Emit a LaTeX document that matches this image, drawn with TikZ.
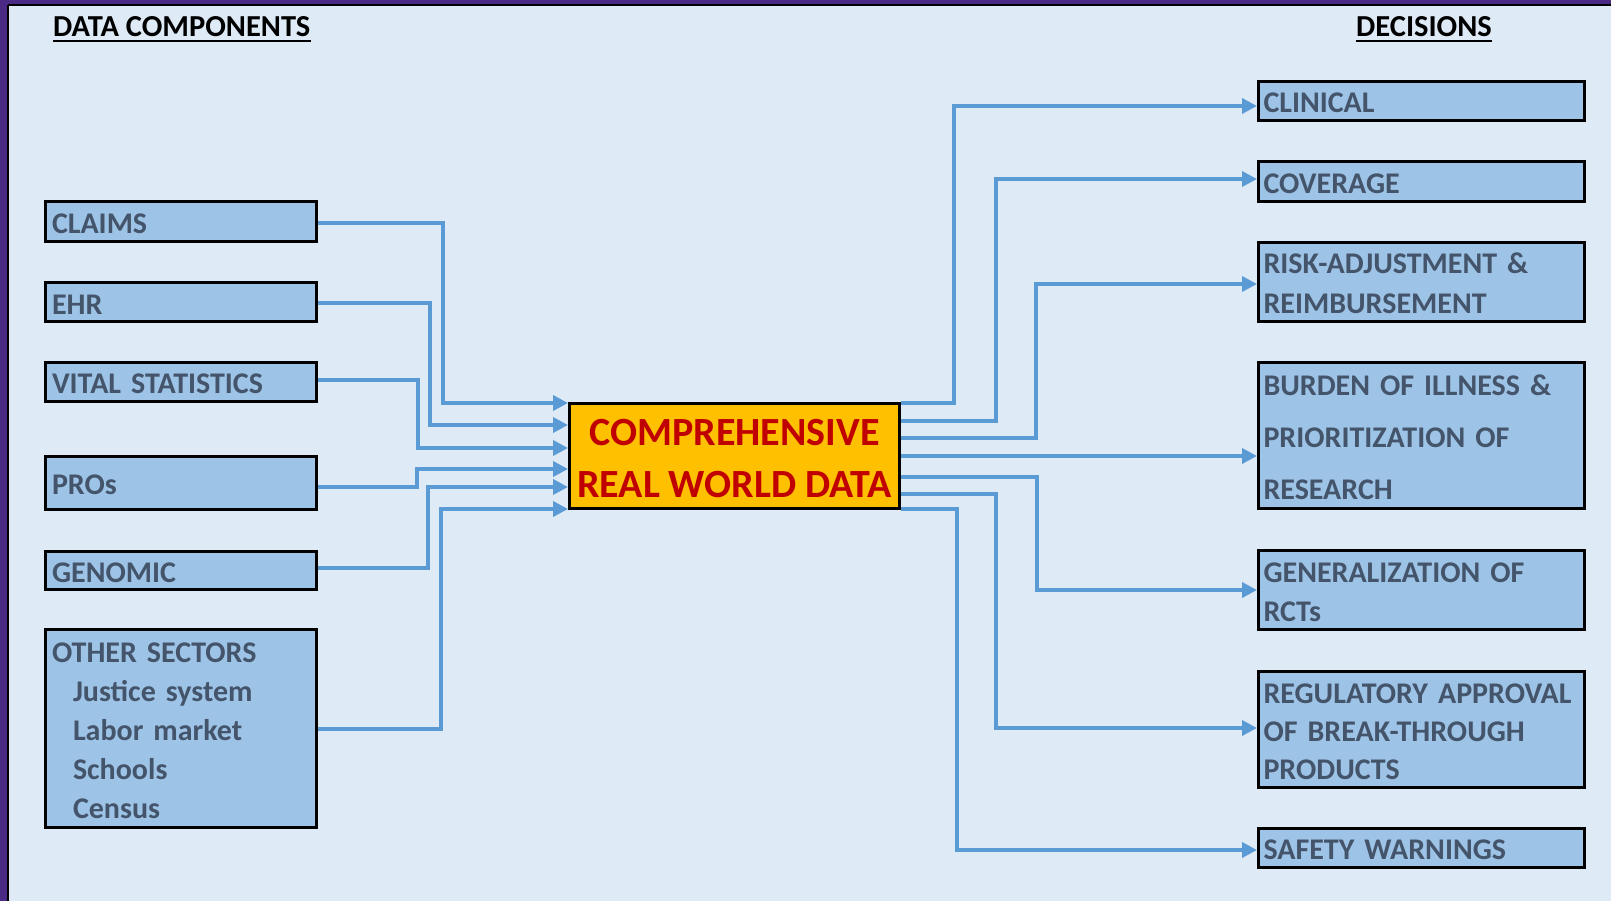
\documentclass[tikz,border=0pt]{standalone}
\usepackage{fontspec}
\setmainfont{Carlito}
\newfontfamily\boxfont{Carlito}[WordSpace=0.85]
\usetikzlibrary{arrows.meta}
\definecolor{bgblue}{HTML}{DEEBF7}
\definecolor{framepurple}{HTML}{4B2A85}
\definecolor{boxblue}{HTML}{9DC3E6}
\definecolor{boxtext}{HTML}{44546A}
\definecolor{connblue}{HTML}{5B9BD5}
\definecolor{coreorange}{HTML}{FFC000}
\definecolor{corered}{HTML}{C00000}
\tikzset{
  basebox/.style={draw=black, line width=3pt, fill=boxblue, rectangle, inner ysep=0pt,
    align=left, text=boxtext, font={\boxfont\fontsize{30}{36}\selectfont\bfseries},
    execute at begin node={\rule{0pt}{24pt}}},
  lines/.style={execute at begin node={\setlength{\baselineskip}{#1}\rule{0pt}{24pt}}},
  lbox/.style={basebox, inner xsep=6.5pt, text width=258pt},
  rbox/.style={basebox, inner xsep=5pt, text width=316pt},
  corebox/.style={draw=black, line width=3pt, fill=coreorange, rectangle, inner sep=0pt,
    minimum width=330pt, minimum height=105pt, align=center, text=corered,
    font=\fontsize{40}{52}\selectfont\bfseries},
  heading/.style={inner sep=0pt, anchor=base west, text=black, font=\fontsize{30.5}{36}\selectfont\bfseries},
  conn/.style={draw=connblue, line width=3.6pt, line join=miter, -{Triangle[length=15pt,width=15pt]}}
}
\begin{document}
\begin{tikzpicture}[x=1pt,y=1pt]
\useasboundingbox (0,0) rectangle (1611,-901);
% background and frame
\fill[bgblue] (0,0) rectangle (1611,-901);
\fill[framepurple] (0,0) rectangle (1611,-5);
\fill[framepurple] (0,0) rectangle (8,-901);
\draw[black, line width=2pt] (8,-5.5) -- (1611,-5.5);
\draw[black, line width=2pt] (8,-5.5) -- (8,-901);

% headings
\node[heading] (dc) at (53,-37) {DATA COMPONENTS};
\draw[black, line width=2pt] ([yshift=-4.5pt]dc.base west) -- ([yshift=-4.5pt]dc.base east);
\node[heading] (dec) at (1356,-37) {DECISIONS};
\draw[black, line width=2pt] ([yshift=-4.5pt]dec.base west) -- ([yshift=-4.5pt]dec.base east);

% left boxes
\node[lbox, minimum height=40pt] (claims) at (181,-221.5) {CLAIMS};
\node[lbox, minimum height=39pt] (ehr) at (181,-302) {EHR};
\node[lbox, minimum height=39pt] (vital) at (181,-382) {VITAL STATISTICS};
\node[lbox, minimum height=53pt] (pros) at (181,-483) {PROs};
\node[lbox, minimum height=38pt] (genomic) at (181,-570.5) {GENOMIC};
\node[lbox, minimum height=198pt, lines=39pt] (other) at (181,-728.5)
  {OTHER SECTORS\\\hspace*{21pt}Justice system\\\hspace*{21pt}Labor market\\\hspace*{21pt}Schools\\\hspace*{21pt}Census};

% center box
\node[corebox] (core) at (734.5,-456) {\rule{0pt}{31.5pt}COMPREHENSIVE\\REAL WORLD DATA};

% right boxes
\node[rbox, minimum height=39pt] (clinical) at (1421.5,-101) {CLINICAL};
\node[rbox, minimum height=40pt] (coverage) at (1421.5,-181.5) {COVERAGE};
\node[rbox, minimum height=79pt, lines=40pt] (risk) at (1421.5,-282)
  {RISK-ADJUSTMENT \&\\REIMBURSEMENT};
\node[rbox, minimum height=146pt, lines=52pt] (burden) at (1421.5,-435.5)
  {BURDEN OF ILLNESS \&\\PRIORITIZATION OF\\RESEARCH};
\node[rbox, minimum height=79pt, lines=39pt] (general) at (1421.5,-590)
  {GENERALIZATION OF\\RCTs};
\node[rbox, minimum height=116pt, lines=38pt] (regul) at (1421.5,-729.5)
  {REGULATORY APPROVAL\\OF BREAK-THROUGH\\PRODUCTS};
\node[rbox, minimum height=39pt] (safety) at (1421.5,-848) {SAFETY WARNINGS};

% left connectors
\draw[conn] ([yshift=-1.5pt]claims.east) -| (443,-403) -- (core.west |- 0,-403);
\draw[conn] ([yshift=-1pt]ehr.east) -| (430,-425) -- (core.west |- 0,-425);
\draw[conn] ([yshift=2pt]vital.east) -| (418,-448) -- (core.west |- 0,-448);
\draw[conn] ([yshift=-4pt]pros.east) -| (417,-469) -- (core.west |- 0,-469);
\draw[conn] ([yshift=2.5pt]genomic.east) -| (428,-487) -- (core.west |- 0,-487);
\draw[conn] ([yshift=-0.5pt]other.east) -| (441,-509) -- (core.west |- 0,-509);

% right connectors
\draw[conn] (core.east |- 0,-403) -| (954,-106) -- (clinical.west |- 0,-106);
\draw[conn] (core.east |- 0,-421) -| (996,-179) -- (coverage.west |- 0,-179);
\draw[conn] (core.east |- 0,-438) -| (1036,-284) -- (risk.west |- 0,-284);
\draw[conn] (core.east |- 0,-456) -- (burden.west |- 0,-456);
\draw[conn] (core.east |- 0,-477) -| (1037,-590) -- (general.west |- 0,-590);
\draw[conn] (core.east |- 0,-494) -| (996,-728) -- (regul.west |- 0,-728);
\draw[conn] (core.east |- 0,-509) -| (957,-850) -- (safety.west |- 0,-850);
\end{tikzpicture}
\end{document}
